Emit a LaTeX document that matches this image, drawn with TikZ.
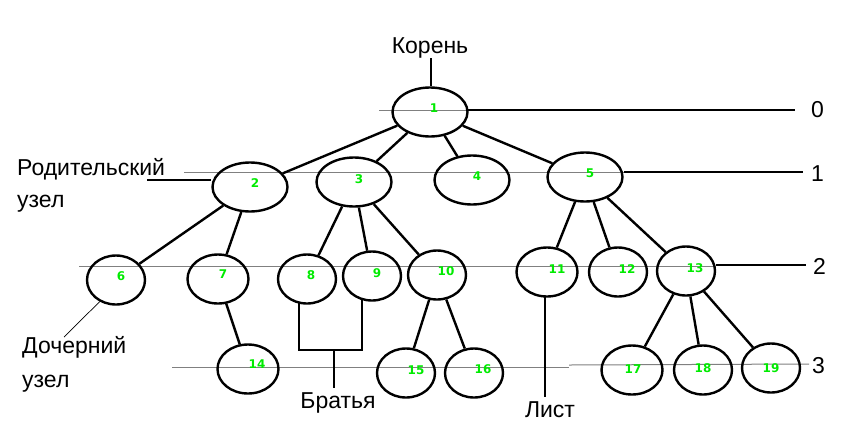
\documentclass[tikz,border=0pt]{standalone}
\usepackage{fontspec}
\setmainfont{Liberation Sans}
\newfontfamily\numfont{DejaVu Sans}
\usetikzlibrary{shapes.geometric}
\definecolor{numgreen}{RGB}{0,235,0}
\begin{document}
\begin{tikzpicture}[x=1pt,y=-1pt,
  vert/.style={draw, ellipse, line width=2.4pt, minimum height=49pt, inner sep=0pt},
  big/.style={vert, minimum width=75pt},
  small/.style={vert, minimum width=58pt},
  wide/.style={vert, minimum width=61pt},
  num/.style={font=\numfont\bfseries\fontsize{12}{12}\selectfont, text=numgreen, inner sep=0pt},
  edge/.style={line width=2.4pt},
  lvl/.style={draw=gray, line width=1pt},
  lvlb/.style={draw=black, line width=1.8pt},
  ann/.style={line width=1.5pt},
  lab/.style={font=\fontsize{23}{27}\selectfont, inner sep=0pt}]
\useasboundingbox[fill=white] (0,0) rectangle (850,440);

% level lines
\draw[lvl] (379,110) -- (468,110);
\draw[lvlb] (468,110) -- (795,110);
\draw[lvl] (184,172) -- (624,172);
\draw[lvlb] (624,172) -- (803,172);
\draw[lvl] (79,266) -- (716,266);
\draw[lvlb] (716,265) -- (806,265);
\draw[lvl] (172,367) -- (569,367);
\draw[lvl] (569,365) -- (809,364);

\node[lab, anchor=base west] (l0) at (811,117) {0};
\node[lab, anchor=base west] (l1) at (811,181) {1};
\node[lab, anchor=base west] (l2) at (813,274) {2};
\node[lab, anchor=base west] (l3) at (812,373) {3};

% vertices
\node[big] (n1) at (430,112) {};
\node[big] (n2) at (250,187) {};
\node[big] (n3) at (354,182) {};
\node[big] (n4) at (472,180) {};
\node[big] (n5) at (585,177) {};
\node[small] (n6) at (116,280) {};
\node[wide] (n7) at (218,279) {};
\node[small] (n8) at (307,279) {};
\node[small] (n9) at (372,276) {};
\node[small] (n10) at (437,275) {};
\node[wide] (n11) at (547,272) {};
\node[small] (n12) at (618,272) {};
\node[small] (n13) at (686,271) {};
\node[wide] (n14) at (248,369) {};
\node[small] (n15) at (406,373) {};
\node[small] (n16) at (474,373) {};
\node[wide] (n17) at (632,370) {};
\node[small] (n18) at (703,370) {};
\node[small] (n19) at (771,368) {};

% numbers
\node[num] (t1) at (434,108) {1};
\node[num] (t2) at (255,183) {2};
\node[num] (t3) at (359,179) {3};
\node[num] (t4) at (477,176) {4};
\node[num] (t5) at (590,173) {5};
\node[num] (t6) at (121,276) {6};
\node[num] (t7) at (223,274) {7};
\node[num] (t8) at (311,275) {8};
\node[num] (t9) at (377,273) {9};
\node[num] (t10) at (446,271) {10};
\node[num] (t11) at (557,269) {11};
\node[num] (t12) at (627,269) {12};
\node[num] (t13) at (695,268) {13};
\node[num] (t14) at (257,364) {14};
\node[num] (t15) at (416,370) {15};
\node[num] (t16) at (483,369) {16};
\node[num] (t17) at (633,369) {17};
\node[num] (t18) at (703,368) {18};
\node[num] (t19) at (771,368) {19};

% edges
\draw[edge] (n1) -- (n2);
\draw[edge] (n1) -- (n3);
\draw[edge] (n1) -- (n4);
\draw[edge] (n1) -- (n5);
\draw[edge] (n2) -- (n6);
\draw[edge] (n2) -- (n7);
\draw[edge] (n3) -- (n8);
\draw[edge] (n3) -- (n9);
\draw[edge] (n3) -- (n10);
\draw[edge] (n5) -- (n11);
\draw[edge] (n5) -- (n12);
\draw[edge] (n5) -- (n13);
\draw[edge] (n7) -- (n14);
\draw[edge] (n10) -- (n15);
\draw[edge] (n10) -- (n16);
\draw[edge] (n13) -- (n17);
\draw[edge] (n13) -- (n18);
\draw[edge] (n13) -- (n19);

% annotations
\node[lab, anchor=base] (koren) at (430,53) {Корень};
\coordinate (kr) at (431,58);
\draw[ann] (kr) -- (kr |- n1.north);

\node[lab, anchor=base west] (rod1) at (17,175) {Родительский};
\node[lab, anchor=base west] (rod2) at (17,207) {узел};
\coordinate (rp) at (147,180);
\draw[ann] (rp) -- (rp -| n2.west);

\node[lab, anchor=base west] (doch1) at (22,353) {Дочерний};
\node[lab, anchor=base west] (doch2) at (22,387) {узел};
\coordinate (dp) at (64,337);
\draw[line width=0.7pt] (n6.233) -- (dp);

\coordinate (b8) at (299,350);
\coordinate (b9) at (362,350);
\coordinate (bm) at (334,350);
\coordinate (bb) at (334,388);
\draw[ann] (b8 |- n8.south) ++(0,-2) -- (b8) -- (b9) -- ([yshift=2pt]b9 |- n9.south);
\draw[ann] (bm) -- (bb);
\node[lab, anchor=base] (brat) at (338,408) {Братья};

\coordinate (lp) at (545,397);
\draw[ann] ([yshift=2pt]lp |- n11.south) -- (lp);
\node[lab, anchor=base] (list) at (550,417) {Лист};
\end{tikzpicture}
\end{document}
